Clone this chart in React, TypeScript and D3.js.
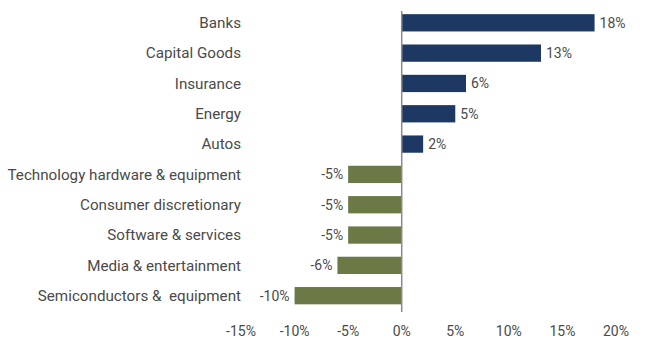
import React from "react";
import * as d3 from "d3";

const categories = [
  "Banks",
  "Capital Goods",
  "Insurance",
  "Energy",
  "Autos",
  "Technology hardware & equipment",
  "Consumer discretionary",
  "Software & services",
  "Media & entertainment",
  "Semiconductors &  equipment",
];
const values = [18, 13, 6, 5, 2, -5, -5, -5, -6, -10];
const labels = ["18%", "13%", "6%", "5%", "2%", "-5%", "-5%", "-5%", "-6%", "-10%"];
const ticks = [-15, -10, -5, 0, 5, 10, 15, 20];

const W = 650;
const H = 350;
const POS = "#1e3864";
const NEG = "#6a7946";
const FONT = "Roboto, 'Noto Sans', sans-serif";

export default function App() {
  const x = d3.scaleLinear().domain([-15, 20]).range([241, 616]);
  const y = d3.scaleBand().domain(categories).range([7.5, 311]).paddingInner(0.43).paddingOuter(0.22);
  const bh = y.bandwidth();
  return (
    <svg width={W} height={H} style={{ position: "absolute", left: 0, top: 0, background: "#fff" }}>
      {categories.map((c, i) => {
        const v = values[i];
        const y0 = y(c)!;
        const cy = y0 + bh / 2;
        const x0 = x(Math.min(0, v));
        const x1 = x(Math.max(0, v));
        return (
          <g key={c}>
            <rect x={x0} y={y0} width={x1 - x0} height={bh} fill={v >= 0 ? POS : NEG} />
            <text
              x={241}
              y={cy}
              dy="0.35em"
              textAnchor="end"
              fontFamily={FONT}
              fontSize={15.2}
              fill="#4a4a4a"
              style={{ whiteSpace: "pre" }}
            >
              {c}
            </text>
            <text
              x={v >= 0 ? x1 + 5 : x0 - 5}
              y={cy}
              dy="0.35em"
              textAnchor={v >= 0 ? "start" : "end"}
              fontFamily={FONT}
              fontSize={14}
              fill="#4a4a4a"
            >
              {labels[i]}
            </text>
          </g>
        );
      })}
      <line x1={x(0)} x2={x(0)} y1={11} y2={312} stroke="#8a8a8a" strokeWidth={1.5} />
      {ticks.map((t) => (
        <text
          key={t}
          x={x(t)}
          y={331}
          dy="0.35em"
          textAnchor="middle"
          fontFamily={FONT}
          fontSize={14}
          fill="#4a4a4a"
        >
          {`${t}%`}
        </text>
      ))}
    </svg>
  );
}
